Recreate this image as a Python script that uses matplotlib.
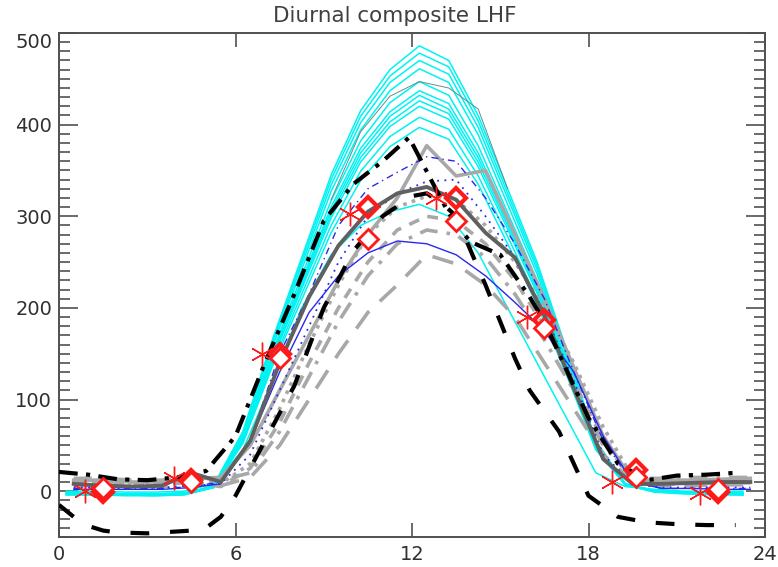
import matplotlib
matplotlib.use("Agg")
import matplotlib.pyplot as plt

# ---------------- data ----------------
title = "Diurnal composite LHF"
xticks = [0, 6, 12, 18, 24]
yticks = [0, 100, 200, 300, 400, 500]

# cyan ensemble (hourly, x = hour + 0.25)
cyan_x = [h + 0.25 for h in range(24)]
cyan_lines = [
    [-3, -3, -4, -4, -3, 6, 65, 165, 255, 345, 415, 460, 486, 470, 410, 330, 250, 155, 55, 8, 0, -2, -3, -3],
    [-2, -3, -3, -4, -3, 6, 64, 163, 251, 340, 409, 453, 478, 463, 404, 325, 246, 153, 54, 8, 0, -2, -2, -3],
    [-3, -4, -4, -4, -3, 5, 62, 160, 247, 334, 402, 446, 470, 455, 397, 320, 242, 150, 53, 8, 0, -2, -3, -4],
    [-2, -2, -3, -3, -2, 5, 61, 157, 242, 327, 394, 437, 461, 446, 389, 313, 237, 147, 52, 8, 1, -1, -2, -2],
    [-3, -3, -3, -4, -3, 5, 59, 152, 235, 317, 382, 424, 447, 432, 377, 304, 230, 143, 51, 7, 0, -2, -3, -3],
    [-4, -4, -5, -5, -4, 4, 58, 149, 230, 310, 374, 414, 437, 423, 369, 297, 225, 140, 50, 7, -1, -3, -4, -4],
    [-3, -3, -4, -4, -3, 4, 57, 147, 227, 306, 369, 409, 432, 417, 364, 293, 222, 138, 49, 7, 0, -2, -3, -3],
    [-2, -3, -3, -3, -2, 4, 56, 145, 224, 302, 364, 403, 426, 412, 359, 290, 219, 136, 48, 7, 0, -1, -2, -2],
    [-4, -4, -4, -5, -4, 4, 55, 143, 221, 298, 359, 398, 420, 406, 354, 286, 216, 134, 47, 7, -1, -2, -3, -4],
    [-3, -3, -3, -4, -3, 4, 54, 139, 215, 290, 349, 387, 408, 395, 344, 278, 210, 130, 46, 7, 0, -2, -3, -3],
    [-2, -2, -3, -3, -2, 4, 52, 136, 209, 282, 339, 376, 397, 384, 335, 270, 204, 127, 45, 7, 0, -1, -2, -2],
    [0, 0, -1, -1, 0, 8, 45, 120, 200, 258, 290, 305, 313, 300, 260, 200, 140, 80, 20, 5, 2, 0, 0, 0],
]

# thin dark-gray line riding on the cyan bundle near the peak
dkthin_x = [9.25, 10.25, 11.25, 12.25, 13.25, 14.25, 15.25]
dkthin_y = [318, 392, 431, 447, 440, 417, 330]

# black long-dashed
blkdash_x = [0, 0.5, 1, 1.5, 2, 3, 4, 4.5, 5, 5.5, 6, 7, 8, 9, 10, 11, 12, 12.5, 13, 13.5, 14, 14.5, 15, 15.5, 16, 17, 18, 19, 20, 21, 22, 23]
blkdash_y = [-15, -28, -38, -43, -45, -46, -44, -43, -40, -28, -5, 55, 115, 200, 262, 300, 322, 325, 315, 300, 262, 225, 185, 145, 110, 65, -5, -28, -34, -36, -37, -37]

# black dash-dot
blkdd_x = [0, 1, 2, 3, 4, 5, 5.5, 6, 7, 8, 9, 10, 11, 11.9, 12.5, 13, 13.5, 14, 15, 16, 16.5, 17, 18, 19, 20, 21, 22, 23]
blkdd_y = [21, 18, 13, 12, 15, 22, 41, 60, 140, 215, 295, 335, 360, 386, 349, 318, 290, 272, 258, 212, 185, 150, 80, 30, 12, 17, 18, 20]

# model lines on hourly grid (x = hour + 0.5)
mx = [h + 0.5 for h in range(24)]
dkgray = [8, 6, 5, 6, 20, 10, 55, 140, 212, 268, 305, 325, 332, 318, 282, 255, 192, 112, 35, 8, 8, 9, 10, 10]
gray_solid = [12, 12, 10, 10, 14, 15, 50, 110, 170, 230, 280, 320, 377, 344, 350, 280, 210, 135, 60, 12, 12, 12, 13, 14]
gray_dot = [10, 10, 9, 9, 12, 8, 30, 90, 160, 225, 280, 310, 322, 318, 290, 250, 200, 140, 70, 15, 10, 10, 11, 11]
gray_dash = [8, 8, 7, 7, 10, 5, 25, 75, 140, 200, 250, 285, 300, 295, 270, 230, 180, 120, 55, 12, 8, 8, 9, 9]
gray_ldash = [6, 6, 5, 5, 8, 6, 15, 50, 100, 150, 195, 225, 258, 248, 225, 190, 140, 90, 40, 10, 6, 6, 7, 7]
gray_dd = [14, 14, 12, 12, 16, 12, 20, 65, 125, 185, 235, 270, 285, 280, 255, 215, 165, 110, 50, 14, 14, 15, 15, 15]
blue_solid = [2, 2, 2, 2, 4, 8, 55, 130, 195, 235, 260, 273, 270, 258, 235, 206, 175, 130, 60, 10, 3, 3, 2, 2]
blue_dd = [3, 3, 3, 3, 5, 10, 55, 150, 215, 290, 330, 348, 365, 360, 320, 270, 210, 130, 55, 10, 3, 3, 3, 3]
blue_dot = [4, 4, 4, 4, 6, 8, 40, 110, 180, 250, 300, 325, 338, 340, 300, 255, 195, 120, 40, 8, 4, 4, 4, 4]

# red observations (3-hourly)
obs_ast_x = [0.9, 3.9, 6.9, 9.9, 12.8, 15.9, 18.8, 21.8]
obs_ast_y = [0, 14, 150, 302, 320, 190, 10, -2]
obs_dia_x = [1.5, 4.5, 7.5, 10.5, 13.5, 16.5, 19.6, 22.4]
obs_dia_y = [-1, 12, 150, 310, 320, 187, 23, -1]
obs_dia2_y = [3, 10, 145, 275, 295, 178, 15, 2]

# ---------------- plot ----------------
fig = plt.figure(figsize=(7.78, 5.67), dpi=100)
ax = fig.add_axes([59/778, 1-537/567, (765-59)/778, (537-33)/567])

cyan = '#00f2f2'
for ys in cyan_lines:
    ax.plot(cyan_x, ys, color=cyan, lw=1.1, zorder=2)
ax.plot(dkthin_x, dkthin_y, color='#5f8f8f', lw=0.7, zorder=2.1)

lg = '#a8a8a8'
ax.plot(mx, gray_ldash, color=lg, lw=2.6, dashes=(6, 4), zorder=3)
ax.plot(mx, gray_dd, color=lg, lw=2.6, dashes=(5, 2.5, 1, 2.5), zorder=3)
ax.plot(mx, gray_dash, color=lg, lw=2.6, dashes=(3, 2.5), zorder=3)
ax.plot(mx, gray_dot, color=lg, lw=2.6, dashes=(1, 1.5), zorder=3)
ax.plot(mx, gray_solid, color=lg, lw=2.6, zorder=3)

ax.plot(mx, blue_solid, color='#2828f0', lw=1.0, zorder=4)
ax.plot(mx, blue_dd, color='#2828f0', lw=1.0, dashes=(5, 3, 1, 3), zorder=4)
ax.plot(mx, blue_dot, color='#2828f0', lw=1.3, dashes=(1, 3), zorder=4)

ax.plot(mx, dkgray, color='#606060', lw=2.8, zorder=4.5)

ax.plot(blkdash_x, blkdash_y, color='black', lw=3, dashes=(4.5, 5), zorder=5)
ax.plot(blkdd_x, blkdd_y, color='black', lw=3, dashes=(4.5, 2, 1, 2), zorder=5)

red = '#ff1a1a'
ax.plot(obs_ast_x, obs_ast_y, ls='none', marker=(6, 2, 0), ms=17, mec=red, mew=1.0, zorder=6)
ax.plot(obs_dia_x, obs_dia_y, ls='none', marker='D', ms=10, mfc='none', mec=red, mew=3, zorder=6)
ax.plot(obs_dia_x, obs_dia2_y, ls='none', marker='D', ms=10, mfc='white', mec=red, mew=2, zorder=6)

ax.set_xlim(0, 24)
ax.set_ylim(-50, 500)
ax.set_xticks(xticks)
ax.set_yticks(yticks)
ax.set_yticks(list(range(-50, 501, 10)), minor=True)
ax.tick_params(which='both', direction='in', top=True, right=True, color='#505050',
               labelcolor='#303030', labelsize=14)
ax.tick_params(axis='x', which='major', length=10, width=1.2, pad=6)
ax.tick_params(axis='y', which='major', length=14, width=1.2, pad=5)
ax.tick_params(axis='y', which='minor', length=8, width=1.2)
ax.tick_params(axis='x', which='minor', length=0)
for s in ax.spines.values():
    s.set_color('#505050')
    s.set_linewidth(1.4)
# top label sits just below the top edge, as in the reference
ax.yaxis.get_major_ticks()[-1].label1.set_verticalalignment('top')

fig.text(395/778, 1-16/567, title, ha='center', va='center', fontsize=15.5, color='#404040')

fig.savefig('out.png', dpi=100)
